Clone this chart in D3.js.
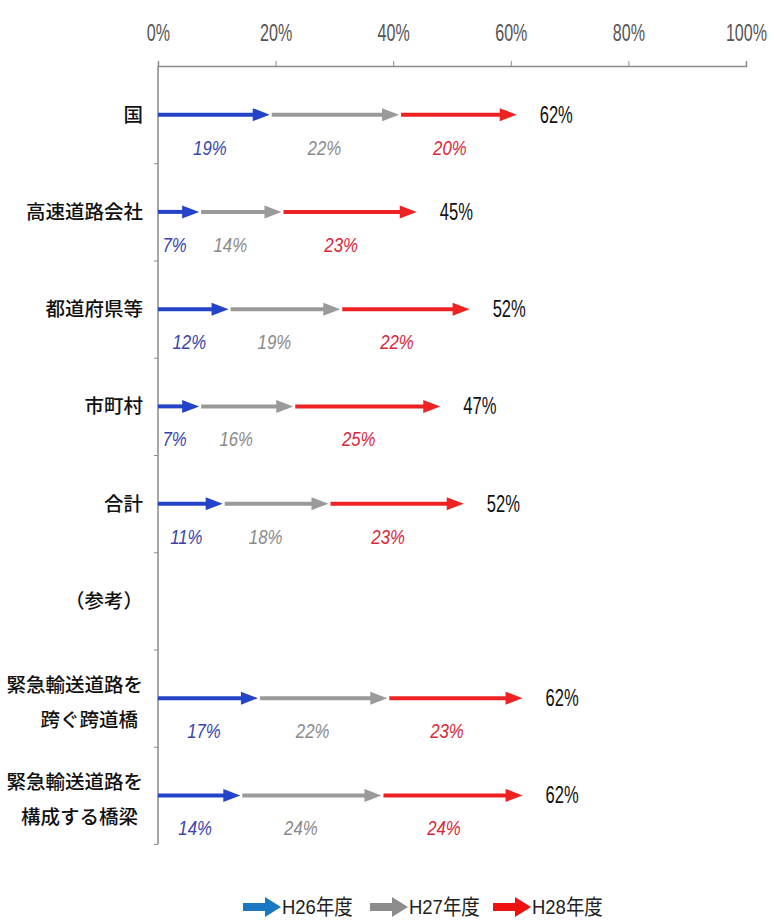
<!DOCTYPE html>
<html>
<head>
<meta charset="utf-8">
<script src="https://cdn.jsdelivr.net/npm/d3@7"></script>
<style>
  body { margin: 0; background: #fff; }
  svg { display: block; }
</style>
</head>
<body>
<script>
const width = 774;
const height = 921;

// data
const categories = ['国', '高速道路会社', '都道府県等', '市町村', '合計', '（参考）', '緊急輸送道路を|跨ぐ跨道橋', '緊急輸送道路を|構成する橋梁'];
const h26 = [19, 7, 12, 7, 11, null, 17, 14];
const h27 = [22, 14, 19, 16, 18, null, 22, 24];
const h28 = [20, 23, 22, 25, 23, null, 23, 24];
const totals = ['62%', '45%', '52%', '47%', '52%', null, '62%', '62%'];
const seriesNames = ['H26年度', 'H27年度', 'H28年度'];
const xTicks = [0, 20, 40, 60, 80, 100];

const lineColors = ['#2343c9', '#9a9a9a', '#ee2222'];
const labelColors = ['#3a44a8', '#8a8a8a', '#d8283a'];
const legendColors = ['#1a78c2', '#8c8c8c', '#ee1111'];
const labelShift = [-4, -10, -8];

const numFont = '"Liberation Sans", Arial, sans-serif';

const margin = {top: 66, left: 158, right: 28};
const plotBottom = 844;

let svg = d3.select('body').append('svg')
            .attr('width', width)
            .attr('height', height);

const x = d3.scaleLinear().domain([0, 100]).range([margin.left, width - margin.right]);
const y = d3.scaleBand().domain(categories).range([margin.top, plotBottom]);
const yIdx = d3.scaleLinear().domain([0, categories.length]).range([margin.top, plotBottom]);

// narrow text: place at (tx,ty) then squeeze horizontally
function narrowText(g, tx, ty, str, size, sx, opts) {
    return g.append('text')
        .attr('transform', `translate(${tx},${ty}) scale(${sx},1)`)
        .attr('text-anchor', opts.anchor || 'start')
        .attr('fill', opts.fill || '#111')
        .style('font-family', opts.font || numFont)
        .style('font-style', opts.italic ? 'italic' : 'normal')
        .style('font-size', size + 'px')
        .text(str);
}

// top axis
let xAxis = svg.append('g')
    .attr('transform', `translate(0,${margin.top})`)
    .call(d3.axisTop(x).tickValues(xTicks).tickSize(5).tickPadding(20).tickFormat(d => d + '%'));
xAxis.select('.domain').attr('stroke', '#8a8a8a').attr('stroke-width', 1.5);
xAxis.selectAll('.tick line').attr('stroke', '#8a8a8a');
xAxis.selectAll('text')
    .attr('fill', '#555')
    .attr('transform', 'scale(0.7,1)')
    .style('font-family', numFont)
    .style('font-size', '23px');

// left axis
let yAxis = svg.append('g')
    .attr('transform', `translate(${margin.left},0)`)
    .call(d3.axisLeft(yIdx).tickValues(d3.range(1, categories.length + 1)).tickSize(4).tickFormat(''));
yAxis.select('.domain').attr('stroke', '#8a8a8a').attr('stroke-width', 1.5).attr('d', `M0,${margin.top}V${plotBottom}`);
yAxis.selectAll('.tick line').attr('stroke', '#8a8a8a');

// category labels
svg.selectAll('text.cat')
    .data(categories)
    .enter()
    .append('text')
    .attr('class', 'cat')
    .attr('text-anchor', 'end')
    .attr('x', margin.left - 15)
    .attr('y', d => y(d) + y.bandwidth() / 2)
    .style('font-family', '"Noto Sans CJK JP", sans-serif')
    .style('font-size', '19.5px')
    .style('font-weight', 500)
    .attr('fill', '#111')
    .html(d => {
        let parts = d.split('|');
        if (parts.length === 1) return `<tspan dy="7">${d}</tspan>`;
        return `<tspan x="${margin.left - 15}" dy="-6">${parts[0]}</tspan>` +
               `<tspan x="${margin.left - 20}" dy="35">${parts[1]}</tspan>`;
    });

const headLen = 17;
const headHalf = 6.5;

function drawArrow(g, x0, x1, cy, color, thick, hLen, hHalf) {
    g.append('line')
        .attr('x1', x0).attr('x2', x1 - hLen + 1)
        .attr('y1', cy).attr('y2', cy)
        .attr('stroke', color)
        .attr('stroke-width', thick);
    g.append('path')
        .attr('d', `M${x1 - hLen},${cy - hHalf}L${x1},${cy}L${x1 - hLen},${cy + hHalf}Z`)
        .attr('fill', color);
}

const series = [h26, h27, h28];
let arrows = svg.append('g');

categories.forEach((c, i) => {
    if (h26[i] == null) return;
    const cy = y(c) + y.bandwidth() / 2;
    let cum = 0;
    series.forEach((s, k) => {
        const start = cum;
        cum += s[i];
        const xs = x(start) + (k === 0 ? 0 : 2);
        const xe = x(cum);
        drawArrow(arrows, xs, xe, cy, lineColors[k], 4, headLen, headHalf);
        narrowText(arrows, (x(start) + xe) / 2 + labelShift[k], cy + 40, s[i] + '%', 21, 0.8,
            {anchor: 'middle', fill: labelColors[k], italic: true});
    });
    narrowText(arrows, x(cum) + 23, cy + 8, totals[i], 23, 0.72, {fill: '#111'});
});

// legend
const legendX = [243, 370, 493];
let legend = svg.append('g');
seriesNames.forEach((name, k) => {
    drawArrow(legend, legendX[k], legendX[k] + 38, 907, legendColors[k], 8, 16, 10);
    narrowText(legend, legendX[k] + 39, 914, name, 21, 0.88,
        {fill: '#222', font: '"Liberation Sans", "Noto Sans CJK JP", sans-serif'});
});
</script>
</body>
</html>
